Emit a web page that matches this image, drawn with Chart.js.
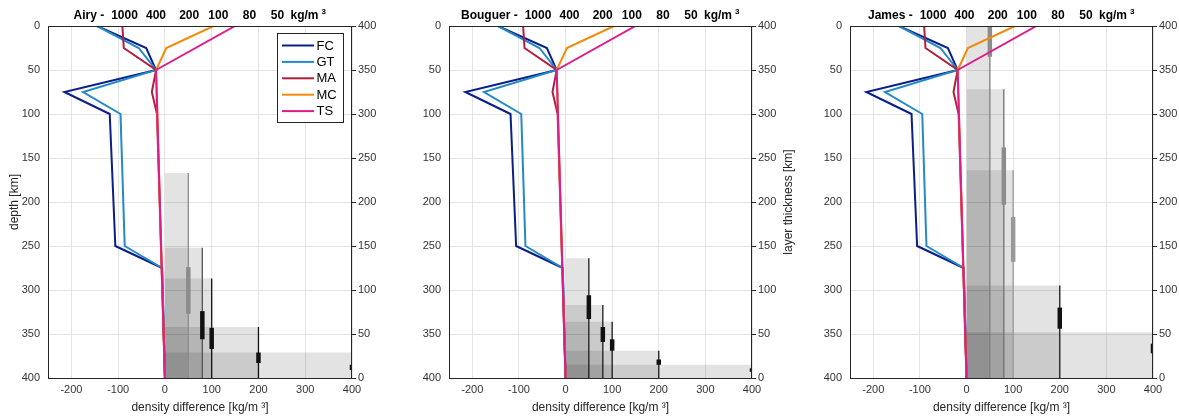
<!DOCTYPE html>
<html>
<head>
<meta charset="utf-8">
<script src="https://cdn.jsdelivr.net/npm/chart.js@4.4.1/dist/chart.umd.min.js"></script>
<style>
  html, body { margin: 0; padding: 0; background: #fff; }
  #wrap { position: relative; width: 1179px; height: 420px; overflow: hidden; }
  canvas { position: absolute; top: 0; }
</style>
</head>
<body>
<div id="wrap">
  <canvas id="airy" width="393" height="420" style="left:0px"></canvas>
  <canvas id="bouguer" width="400" height="420" style="left:400px"></canvas>
  <canvas id="james" width="379" height="420" style="left:800px"></canvas>
</div>
<script>
// density difference profiles vs depth (same in all three panels)
const depthFC = [0, 25, 50, 75, 100, 250, 275, 400];
const valFC = [-145, -40, -19, -215, -118, -106, -6, 0];
const depthGT = [0, 25, 50, 75, 100, 250, 275, 400];
const valGT = [-145, -56, -19, -175, -95, -86, -6, 0];
const depthMA = [0, 25, 50, 75, 100, 400];
const valMA = [-91, -88, -19, -28, -17, 0];
const depthMC = [0, 25, 50, 400];
const valMC = [104, 3, -19, 0];
const depthTS = [0, 50, 400];
const valTS = [150, -19, 0];

// layer thickness boxes per density contrast
const boxDensity = [50, 80, 100, 200, 400];
const airyThick = [233, 148, 113, 58, 29];
const airyLow = [73, 44, 33, 17, 9];
const airyHigh = [126, 76, 57, 29, 15];
const bouguerThick = [136, 83, 64, 31, 15];
const bouguerLow = [67, 41, 31, 15, 7];
const bouguerHigh = [94, 58, 44, 21, 11];
const jamesThick = [400, 328, 236, 105, 52];
const jamesLow = [365, 197, 132, 56, 28];
const jamesHigh = [400, 262, 183, 80, 39];

const headerLabels = ['1000', '400', '200', '100', '80', '50'];
const headerOffsets = [0, 31.5, 64.7, 93.8, 125, 153];

const FONT = '"Liberation Sans", Arial, sans-serif';
Chart.defaults.font.family = FONT;
Chart.defaults.color = '#262626';

const series = [
  { label: 'FC', depth: depthFC, val: valFC, color: '#0b1f88' },
  { label: 'GT', depth: depthGT, val: valGT, color: '#2389c8' },
  { label: 'MA', depth: depthMA, val: valMA, color: '#b01f3c' },
  { label: 'MC', depth: depthMC, val: valMC, color: '#f08a0a' },
  { label: 'TS', depth: depthTS, val: valTS, color: '#e01a8c' }
];

const boxPlugin = {
  id: 'frame',
  afterDatasetsDraw(chart) {
    const { ctx, chartArea: a } = chart;
    ctx.save();
    ctx.strokeStyle = '#262626';
    ctx.lineWidth = 1;
    ctx.strokeRect(Math.round(a.left) + 0.5, Math.round(a.top) + 0.5,
      Math.round(a.right - a.left) - 1, Math.round(a.bottom - a.top));
    ctx.restore();
  }
};

const headerPlugin = {
  id: 'header',
  afterDraw(chart, args, opts) {
    const { ctx, chartArea: a } = chart;
    ctx.save();
    ctx.font = 'bold 12px ' + FONT;
    ctx.fillStyle = '#000';
    ctx.textBaseline = 'middle';
    const prefix = opts.name + ' -';
    const pw = ctx.measureText(prefix).width;
    const w0 = ctx.measureText(headerLabels[0]).width;
    const uw = ctx.measureText('kg/m').width;
    const leftRel = -w0 / 2 - 7 - pw;
    const rightRel = 166 + uw + 8;
    const c0 = (a.left + a.right) / 2 - (leftRel + rightRel) / 2;
    const y = 16;
    ctx.textAlign = 'left';
    ctx.fillText(prefix, c0 + leftRel, y);
    ctx.textAlign = 'center';
    headerLabels.forEach((t, i) => ctx.fillText(t, c0 + headerOffsets[i], y));
    ctx.textAlign = 'left';
    ctx.fillText('kg/m', c0 + 166, y);
    ctx.font = 'bold 8px ' + FONT;
    ctx.fillText('3', c0 + 166 + uw + 3, 11.5);
    ctx.restore();
  }
};

const legendPlugin = {
  id: 'boxLegend',
  afterDatasetsDraw(chart, args, opts) {
    if (!opts.show) return;
    const { ctx, chartArea: a } = chart;
    const items = chart.data.datasets.filter(d => d.label);
    const bx = Math.round(a.right - 75) + 0.5, by = Math.round(a.top + 7) + 0.5;
    ctx.save();
    ctx.fillStyle = '#fff';
    ctx.fillRect(bx, by, 66, 89);
    ctx.strokeStyle = '#262626';
    ctx.lineWidth = 1;
    ctx.strokeRect(bx, by, 66, 89);
    ctx.font = '13px ' + FONT;
    ctx.textBaseline = 'middle';
    ctx.textAlign = 'left';
    items.forEach((d, i) => {
      const yy = by + 12 + i * 16.4;
      ctx.strokeStyle = d.borderColor;
      ctx.lineWidth = 2;
      ctx.beginPath();
      ctx.moveTo(bx + 4.5, yy);
      ctx.lineTo(bx + 36.5, yy);
      ctx.stroke();
      ctx.fillStyle = '#000';
      ctx.fillText(d.label, bx + 39, yy + 0.5);
    });
    ctx.restore();
  }
};

const rightTitlePlugin = {
  id: 'rightTitle',
  afterDraw(chart, args, opts) {
    if (!opts.text) return;
    const { ctx, chartArea: a } = chart;
    ctx.save();
    ctx.translate(a.right + 37, (a.top + a.bottom) / 2);
    ctx.rotate(-Math.PI / 2);
    ctx.font = '12px ' + FONT;
    ctx.fillStyle = '#262626';
    ctx.textAlign = 'center';
    ctx.textBaseline = 'middle';
    ctx.fillText(opts.text, 0, 0);
    ctx.restore();
  }
};

function buildPanel(id, name, thick, low, high, thinColors, thickColors, cfg) {
  const datasets = [];
  boxDensity.forEach((d, i) => {
    datasets.push({
      label: '', yAxisID: 'y2', order: 40,
      data: [{ x: 0, y: thick[i] }, { x: d, y: thick[i] }],
      borderWidth: 0, borderColor: 'rgba(0,0,0,0)', pointRadius: 0,
      fill: 'origin', backgroundColor: 'rgba(0,0,0,0.11)'
    });
  });
  boxDensity.forEach((d, i) => {
    datasets.push({
      label: '', yAxisID: 'y2', order: 30,
      data: [{ x: d, y: 0 }, { x: d, y: thick[i] }],
      borderWidth: 1.3, borderColor: thinColors[i], pointRadius: 0, fill: false
    });
    datasets.push({
      label: '', yAxisID: 'y2', order: 20,
      data: [{ x: d, y: low[i] }, { x: d, y: high[i] }],
      borderWidth: 4.5, borderColor: thickColors[i], borderCapStyle: 'butt',
      pointRadius: 0, fill: false
    });
  });
  series.forEach((s, k) => {
    datasets.push({
      label: s.label, yAxisID: 'y', order: 10 - k,
      data: s.depth.map((dp, j) => ({ x: s.val[j], y: dp })),
      borderColor: s.color, borderWidth: 2, pointRadius: 0, fill: false, tension: 0
    });
  });

  const gridColor = '#e4e4e4';
  return new Chart(document.getElementById(id), {
    type: 'line',
    data: { datasets },
    options: {
      responsive: false,
      animation: false,
      events: [],
      layout: { padding: { top: 26, left: 0, right: 0, bottom: 0 } },
      plugins: {
        legend: { display: false },
        tooltip: { enabled: false },
        header: { name },
        boxLegend: { show: cfg.legend },
        rightTitle: { text: cfg.rightTitle }
      },
      scales: {
        x: {
          type: 'linear', min: -250, max: 400,
          afterFit: s => { s.height = 42; },
          border: { display: false },
          grid: { color: gridColor, drawTicks: false },
          ticks: { stepSize: 100, includeBounds: false, padding: 5, font: { size: 11 }, color: '#333' },
          title: { display: true, text: 'density difference [kg/m ³]', font: { size: 12 }, color: '#262626', padding: { top: 4, bottom: 5 } }
        },
        y: {
          type: 'linear', position: 'left', reverse: true, min: 0, max: 400,
          afterFit: s => { s.width = cfg.leftW; },
          border: { display: false },
          grid: { color: gridColor, drawTicks: false },
          ticks: { stepSize: 50, includeBounds: false, padding: 8, font: { size: 11 }, color: '#333' },
          title: { display: cfg.leftTitle, text: 'depth [km]', font: { size: 12 }, color: '#262626', padding: { top: 7, bottom: 0 } }
        },
        y2: {
          type: 'linear', position: 'right', min: 0, max: 400,
          afterFit: s => { s.width = cfg.rightW; },
          border: { display: false },
          grid: { drawOnChartArea: false, drawTicks: true, tickLength: 4, tickColor: '#262626' },
          ticks: { stepSize: 50, includeBounds: false, padding: 2, font: { size: 11 }, color: '#333' }
        }
      }
    },
    plugins: [boxPlugin, headerPlugin, legendPlugin, rightTitlePlugin]
  });
}

buildPanel('airy', 'Airy', airyThick, airyLow, airyHigh,
  ['#8c8c8c', '#555555', '#111111', '#111111', '#111111'],
  ['#8c8c8c', '#111111', '#111111', '#111111', '#111111'],
  { leftW: 48, rightW: 41, legend: true, leftTitle: true, rightTitle: '' });

buildPanel('bouguer', 'Bouguer', bouguerThick, bouguerLow, bouguerHigh,
  ['#1a1a1a', '#1a1a1a', '#1a1a1a', '#1a1a1a', '#1a1a1a'],
  ['#111111', '#111111', '#111111', '#111111', '#111111'],
  { leftW: 49, rightW: 48, legend: false, leftTitle: false, rightTitle: 'layer thickness [km]' });

buildPanel('james', 'James', jamesThick, jamesLow, jamesHigh,
  ['#7d7d7d', '#707070', '#9a9a9a', '#1a1a1a', '#1a1a1a'],
  ['#8c8c8c', '#8c8c8c', '#999999', '#111111', '#111111'],
  { leftW: 50, rightW: 26, legend: false, leftTitle: false, rightTitle: '' });
</script>
</body>
</html>
